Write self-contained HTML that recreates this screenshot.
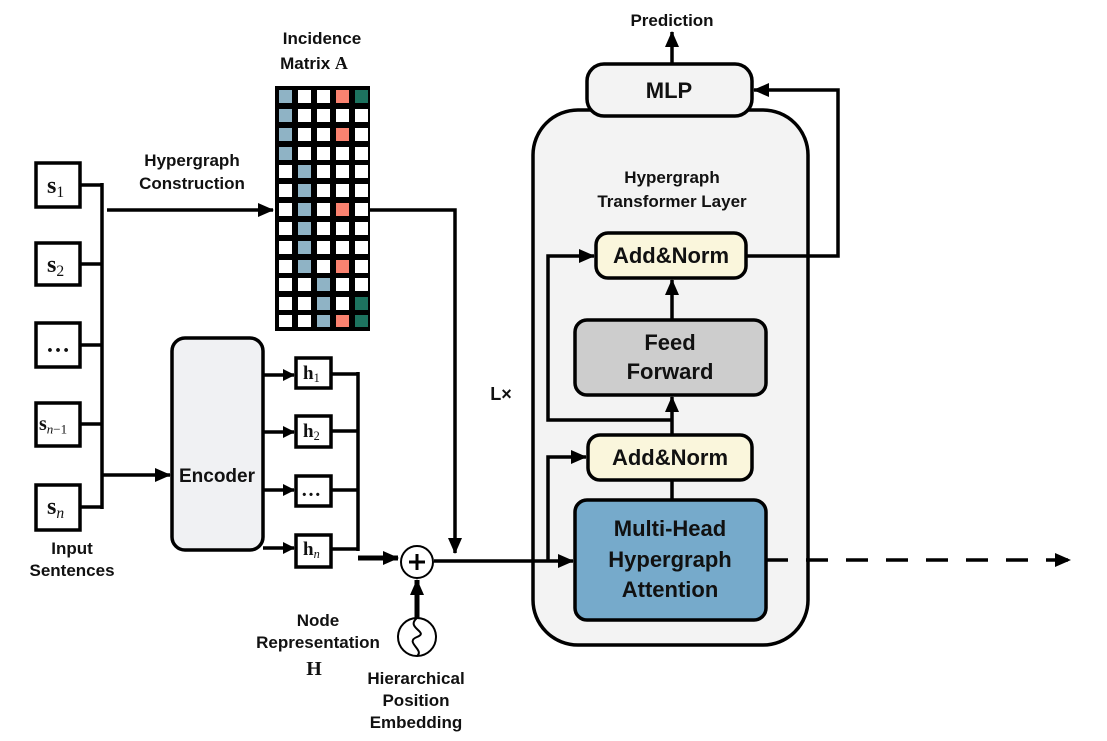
<!DOCTYPE html>
<html><head><meta charset="utf-8"><style>
body{margin:0;background:#fff;width:1107px;height:741px;position:relative;overflow:hidden}
svg{display:block;position:absolute;left:0;top:0}
.t{position:absolute;font-family:"Liberation Sans",sans-serif;font-weight:bold;color:#111;text-align:center;white-space:nowrap;line-height:1;transform:translateX(-50%)}
.s{font-size:17px}
.b{font-size:22px}
.m{font-family:"Liberation Serif",serif;font-weight:bold;position:absolute;color:#111;white-space:nowrap;line-height:1}
.m sub{font-weight:normal;font-size:65%;vertical-align:-0.25em}
</style></head><body>
<svg width="1107" height="741" viewBox="0 0 1107 741" xmlns="http://www.w3.org/2000/svg">
<defs>
<marker id="a" markerWidth="12" markerHeight="12" refX="11" refY="6" orient="auto" markerUnits="userSpaceOnUse" viewBox="0 0 12 12">
<path d="M0,0 L12,6 L0,12 z" fill="#000"/></marker>
<marker id="b" markerWidth="16" markerHeight="16" refX="15" refY="8" orient="auto" markerUnits="userSpaceOnUse" viewBox="0 0 16 16">
<path d="M0,1 L16,8 L0,15 z" fill="#000"/></marker>
</defs>
<g stroke="#000" stroke-width="3.5" fill="none">
<rect x="533" y="110" width="275" height="535" rx="45" fill="#f3f3f3"/>
<rect x="36" y="163" width="44" height="44" fill="#fff"/>
<rect x="36" y="243" width="44" height="42" fill="#fff"/>
<rect x="36" y="323" width="44" height="44" fill="#fff"/>
<rect x="36" y="403" width="44" height="43" fill="#fff"/>
<rect x="36" y="485" width="44" height="45" fill="#fff"/>
<path d="M80,185 H102 M80,264 H102 M80,345 H102 M80,424 H102 M80,507 H102 M102,183 V509"/>
<path d="M107,210 H273" marker-end="url(#b)"/>
<path d="M102,475 H170" marker-end="url(#b)"/>
<rect x="172" y="338" width="91" height="212" rx="13" fill="#f0f1f3"/>
<path d="M263,375 H294" marker-end="url(#a)"/>
<path d="M263,432 H294" marker-end="url(#a)"/>
<path d="M263,490 H294" marker-end="url(#a)"/>
<path d="M263,548 H294" marker-end="url(#a)"/>
<rect x="296" y="358" width="35" height="30" fill="#fff"/>
<rect x="296" y="416" width="35" height="31" fill="#fff"/>
<rect x="296" y="476" width="35" height="30" fill="#fff"/>
<rect x="296" y="535" width="35" height="32" fill="#fff"/>
<path d="M331,374 H358 M331,431 H358 M331,490 H358 M331,549 H358 M358,372 V551"/>
<path d="M358,558 H398" stroke-width="5" marker-end="url(#b)"/>
<path d="M370,210 H455 V553" marker-end="url(#b)"/>
<path d="M434,561 H573" marker-end="url(#b)"/>
<circle cx="417" cy="562" r="16" fill="#fff" stroke-width="2"/>
<path d="M417,554 V570 M409,562 H425" stroke-width="3"/>
<circle cx="417" cy="637" r="19" fill="#fff" stroke-width="2"/>
<path d="M417,618 C405,628 430,632 417,637 C404,642 425,650 417,656" stroke-width="2"/>
<path d="M417,618 V580" stroke-width="5" marker-end="url(#b)"/>
<rect x="587" y="64" width="165" height="52" rx="17" fill="#f3f3f3"/>
<path d="M672,64 V32" marker-end="url(#b)"/>
<rect x="596" y="233" width="150" height="45" rx="12" fill="#faf6dc"/>
<rect x="575" y="320" width="191" height="75" rx="12" fill="#cdcdcd"/>
<rect x="588" y="435" width="164" height="45" rx="12" fill="#faf6dc"/>
<rect x="575" y="500" width="191" height="120" rx="12" fill="#76aacb"/>
<path d="M672,500 V480"/>
<path d="M672,435 V397" marker-end="url(#b)"/>
<path d="M672,420 H548 V256 H594" marker-end="url(#b)"/>
<path d="M548,561 V457 H586" marker-end="url(#b)"/>
<path d="M672,320 V280" marker-end="url(#b)"/>
<path d="M746,256 H838 V90 H754" marker-end="url(#b)"/>
<path d="M766,560 H1070" stroke-dasharray="22,18" marker-end="url(#b)"/>
</g>
<rect x="275" y="86" width="95" height="245" fill="#000"/>
<g fill="#fff">
<rect x="279" y="90" width="13" height="13" fill="#8fb3c5"/><rect x="298" y="90" width="13" height="13"/><rect x="317" y="90" width="13" height="13"/><rect x="336" y="90" width="13" height="13" fill="#fa8270"/><rect x="355" y="90" width="13" height="13" fill="#1d735f"/>
<rect x="279" y="109" width="13" height="13" fill="#8fb3c5"/><rect x="298" y="109" width="13" height="13"/><rect x="317" y="109" width="13" height="13"/><rect x="336" y="109" width="13" height="13"/><rect x="355" y="109" width="13" height="13"/>
<rect x="279" y="128" width="13" height="13" fill="#8fb3c5"/><rect x="298" y="128" width="13" height="13"/><rect x="317" y="128" width="13" height="13"/><rect x="336" y="128" width="13" height="13" fill="#fa8270"/><rect x="355" y="128" width="13" height="13"/>
<rect x="279" y="147" width="13" height="13" fill="#8fb3c5"/><rect x="298" y="147" width="13" height="13"/><rect x="317" y="147" width="13" height="13"/><rect x="336" y="147" width="13" height="13"/><rect x="355" y="147" width="13" height="13"/>
<rect x="279" y="165" width="13" height="13"/><rect x="298" y="165" width="13" height="13" fill="#8fb3c5"/><rect x="317" y="165" width="13" height="13"/><rect x="336" y="165" width="13" height="13"/><rect x="355" y="165" width="13" height="13"/>
<rect x="279" y="184" width="13" height="13"/><rect x="298" y="184" width="13" height="13" fill="#8fb3c5"/><rect x="317" y="184" width="13" height="13"/><rect x="336" y="184" width="13" height="13"/><rect x="355" y="184" width="13" height="13"/>
<rect x="279" y="203" width="13" height="13"/><rect x="298" y="203" width="13" height="13" fill="#8fb3c5"/><rect x="317" y="203" width="13" height="13"/><rect x="336" y="203" width="13" height="13" fill="#fa8270"/><rect x="355" y="203" width="13" height="13"/>
<rect x="279" y="222" width="13" height="13"/><rect x="298" y="222" width="13" height="13" fill="#8fb3c5"/><rect x="317" y="222" width="13" height="13"/><rect x="336" y="222" width="13" height="13"/><rect x="355" y="222" width="13" height="13"/>
<rect x="279" y="241" width="13" height="13"/><rect x="298" y="241" width="13" height="13" fill="#8fb3c5"/><rect x="317" y="241" width="13" height="13"/><rect x="336" y="241" width="13" height="13"/><rect x="355" y="241" width="13" height="13"/>
<rect x="279" y="260" width="13" height="13"/><rect x="298" y="260" width="13" height="13" fill="#8fb3c5"/><rect x="317" y="260" width="13" height="13"/><rect x="336" y="260" width="13" height="13" fill="#fa8270"/><rect x="355" y="260" width="13" height="13"/>
<rect x="279" y="278" width="13" height="13"/><rect x="298" y="278" width="13" height="13"/><rect x="317" y="278" width="13" height="13" fill="#8fb3c5"/><rect x="336" y="278" width="13" height="13"/><rect x="355" y="278" width="13" height="13"/>
<rect x="279" y="297" width="13" height="13"/><rect x="298" y="297" width="13" height="13"/><rect x="317" y="297" width="13" height="13" fill="#8fb3c5"/><rect x="336" y="297" width="13" height="13"/><rect x="355" y="297" width="13" height="13" fill="#1d735f"/>
<rect x="279" y="315" width="13" height="12"/><rect x="298" y="315" width="13" height="12"/><rect x="317" y="315" width="13" height="12" fill="#8fb3c5"/><rect x="336" y="315" width="13" height="12" fill="#fa8270"/><rect x="355" y="315" width="13" height="12" fill="#1d735f"/>
</g>
</svg>
<div class="t s" style="left:322px;top:30px">Incidence</div>
<div class="t s" style="left:314px;top:54px">Matrix <span style="font-family:'Liberation Serif',serif;font-size:18px">A</span></div>
<div class="t s" style="left:192px;top:152px">Hypergraph</div>
<div class="t s" style="left:192px;top:175px">Construction</div>
<div class="t s" style="left:72px;top:540px">Input</div>
<div class="t s" style="left:72px;top:562px">Sentences</div>
<div class="t s" style="left:318px;top:612px">Node</div>
<div class="t s" style="left:318px;top:634px">Representation</div>
<div class="t" style="left:314px;top:659px;font-family:'Liberation Serif',serif;font-size:20px">H</div>
<div class="t s" style="left:416px;top:670px">Hierarchical</div>
<div class="t s" style="left:416px;top:692px">Position</div>
<div class="t s" style="left:416px;top:714px">Embedding</div>
<div class="t s" style="left:672px;top:12px">Prediction</div>
<div class="t s" style="left:672px;top:169px">Hypergraph</div>
<div class="t s" style="left:672px;top:193px">Transformer Layer</div>
<div class="t" style="left:501px;top:385px;font-size:18px">L×</div>
<div class="t" style="left:217px;top:467px;font-size:19px">Encoder</div>
<div class="t b" style="left:669px;top:80px">MLP</div>
<div class="t b" style="left:671px;top:245px">Add&amp;Norm</div>
<div class="t b" style="left:670px;top:332px">Feed</div>
<div class="t b" style="left:670px;top:361px">Forward</div>
<div class="t b" style="left:670px;top:447px">Add&amp;Norm</div>
<div class="t b" style="left:670px;top:518px">Multi-Head</div>
<div class="t b" style="left:670px;top:549px">Hypergraph</div>
<div class="t b" style="left:670px;top:579px">Attention</div>
<div class="m" style="left:47px;top:174px;font-size:24px">s<sub>1</sub></div>
<div class="m" style="left:47px;top:253px;font-size:24px">s<sub>2</sub></div>
<div class="m" style="left:46px;top:333px;font-size:24px">…</div>
<div class="m" style="left:39px;top:414px;font-size:20px">s<sub><i>n</i>−1</sub></div>
<div class="m" style="left:47px;top:495px;font-size:24px">s<sub><i>n</i></sub></div>
<div class="m" style="left:303px;top:364px;font-size:19px">h<sub>1</sub></div>
<div class="m" style="left:303px;top:422px;font-size:19px">h<sub>2</sub></div>
<div class="m" style="left:301px;top:480px;font-size:20px">…</div>
<div class="m" style="left:303px;top:540px;font-size:19px">h<sub><i>n</i></sub></div>
</body></html>
